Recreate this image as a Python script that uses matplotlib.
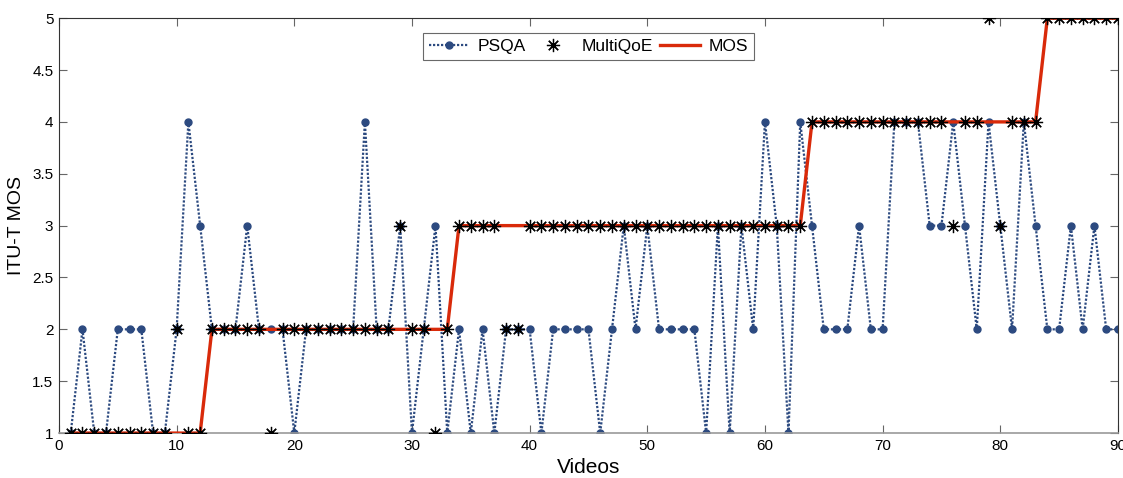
import numpy as np
import matplotlib.pyplot as plt

plt.rcParams['font.family'] = ['Liberation Sans', 'DejaVu Sans']

videos = np.arange(1, 91)
psqa = [1, 2, 1, 1, 2, 2, 2, 1, 1, 2,
        4, 3, 2, 2, 2, 3, 2, 2, 2, 1,
        2, 2, 2, 2, 2, 4, 2, 2, 3, 1,
        2, 3, 1, 2, 1, 2, 1, 2, 2, 2,
        1, 2, 2, 2, 2, 1, 2, 3, 2, 3,
        2, 2, 2, 2, 1, 3, 1, 3, 2, 4,
        3, 1, 4, 3, 2, 2, 2, 3, 2, 2,
        4, 4, 4, 3, 3, 4, 3, 2, 4, 3,
        2, 4, 3, 2, 2, 3, 2, 3, 2, 2]
multiqoe = [1, 1, 1, 1, 1, 1, 1, 1, 1, 2,
            1, 1, 2, 2, 2, 2, 2, 1, 2, 2,
            2, 2, 2, 2, 2, 2, 2, 2, 3, 2,
            2, 1, 2, 3, 3, 3, 3, 2, 2, 3,
            3, 3, 3, 3, 3, 3, 3, 3, 3, 3,
            3, 3, 3, 3, 3, 3, 3, 3, 3, 3,
            3, 3, 3, 4, 4, 4, 4, 4, 4, 4,
            4, 4, 4, 4, 4, 3, 4, 4, 5, 3,
            4, 4, 4, 5, 5, 5, 5, 5, 5, 5]
mos = [1] * 12 + [2] * 21 + [3] * 30 + [4] * 20 + [5] * 7

fig = plt.figure(figsize=(11.23, 4.78), dpi=100)
ax = fig.add_axes([0.0525, 0.094, 0.943, 0.868])

ax.plot(videos, psqa, color='#2c4a80', lw=1.6, ls=(0, (1, 0.8)),
        marker='o', ms=5, label='PSQA', zorder=2)
# matlab style asterisk: plus and cross together
ax.plot(videos, multiqoe, ls='none', marker=(8, 2, 0), color='black',
        ms=9.5, mew=0.9, label='MultiQoE', zorder=4)
ax.plot(videos, mos, '-', color='#d92a0a', lw=2.4, label='MOS', zorder=3)

ax.set_xlim(0, 90)
ax.set_ylim(1, 5)
ax.set_xticks(np.arange(0, 91, 10))
ax.set_yticks(np.arange(1, 5.01, 0.5))
ax.set_yticklabels(['1', '1.5', '2', '2.5', '3', '3.5', '4', '4.5', '5'])
ax.tick_params(direction='in', length=6, width=0.8, color='#666666',
               labelsize=11, top=True, right=True, pad=4)
for s in ax.spines.values():
    s.set_color('#333333')
    s.set_linewidth(0.8)
ax.spines['bottom'].set_color('#999999')
ax.spines['bottom'].set_linewidth(1.2)

ax.set_xlabel('Videos', fontsize=15, labelpad=4)
ax.set_ylabel('ITU-T MOS', fontsize=14, labelpad=5)

leg = ax.legend(loc='upper center', ncol=3, fontsize=12.5, frameon=True,
                fancybox=False, edgecolor='#444444', borderpad=0.35,
                handlelength=2.3, columnspacing=0.4, handletextpad=0.5,
                borderaxespad=0.3, bbox_to_anchor=(0.5, 0.978))
leg.get_frame().set_linewidth(0.8)

fig.savefig('out.png', dpi=100)
